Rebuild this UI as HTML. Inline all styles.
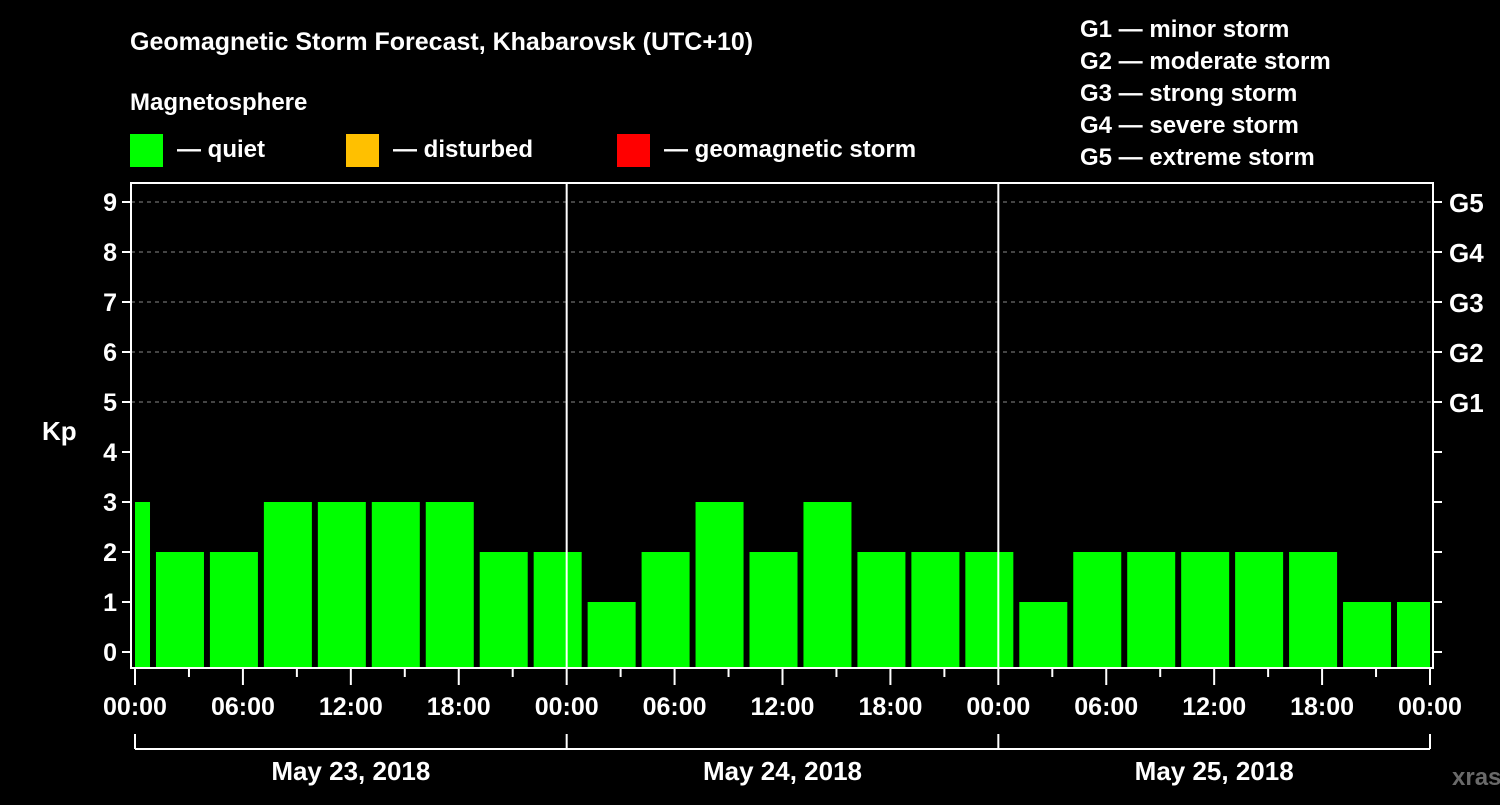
<!DOCTYPE html>
<html><head><meta charset="utf-8"><style>
html,body{margin:0;padding:0;background:#000;}
svg text{font-family:"Liberation Sans",Arial,sans-serif;font-weight:bold;fill:#fff;}
</style></head><body>
<svg width="1500" height="800" xmlns="http://www.w3.org/2000/svg">
<rect width="1500" height="800" fill="#000"/>
<text x="130" y="50" font-size="25">Geomagnetic Storm Forecast, Khabarovsk (UTC+10)</text>
<text x="130" y="110" font-size="24">Magnetosphere</text>
<rect x="130" y="134" width="33" height="33" fill="#00ff00"/>
<text x="177" y="157" font-size="24">— quiet</text>
<rect x="346" y="134" width="33" height="33" fill="#ffc000"/>
<text x="393" y="157" font-size="24">— disturbed</text>
<rect x="617" y="134" width="33" height="33" fill="#ff0000"/>
<text x="664" y="157" font-size="24">— geomagnetic storm</text>
<g font-size="24">
<text x="1080" y="37">G1 — minor storm</text>
<text x="1080" y="69">G2 — moderate storm</text>
<text x="1080" y="101">G3 — strong storm</text>
<text x="1080" y="133">G4 — severe storm</text>
<text x="1080" y="165">G5 — extreme storm</text>
</g>
<g id="plot"></g>
<text x="42" y="440" font-size="26">Kp</text>
<text x="1452" y="785" font-size="24" fill="#666" style="fill:#6a6a6a">xras.ru</text>
</svg>
<script>
const kpValues=[3,2,2,3,3,3,3,2,2,1,2,3,2,3,2,2,2,1,2,2,2,2,2,1,1];
const barHours=[-0.5,2.5,5.5,8.5,11.5,14.5,17.5,20.5,23.5,26.5,29.5,32.5,35.5,38.5,41.5,44.5,47.5,50.5,53.5,56.5,59.5,62.5,65.5,68.5,71.5];
const yTicks=[0,1,2,3,4,5,6,7,8,9];
const gLabels=["G1","G2","G3","G4","G5"];
const timeLabels=["00:00","06:00","12:00","18:00","00:00","06:00","12:00","18:00","00:00","06:00","12:00","18:00","00:00"];
const dayLabels=["May 23, 2018","May 24, 2018","May 25, 2018"];
const NS="http://www.w3.org/2000/svg";
const L=131,R=1433,T=183,B=668;
const x=h=>135+h*(1295/72);
const y=v=>652-v*50;
const g=document.getElementById('plot');
function mk(t,a,p){const e=document.createElementNS(NS,t);for(const k in a)e.setAttribute(k,a[k]);(p||g).appendChild(e);return e;}
const clip=mk('clipPath',{id:'pc'});mk('rect',{x:135,y:T,width:1430-135,height:B-T},clip);
yTicks.forEach(v=>{
 if(v>=5){const gl=mk('line',{x1:L,x2:R,y1:y(v),y2:y(v),stroke:'#888','stroke-dasharray':'4,4','stroke-width':1});
 
 }
 const t=mk('line',{x1:L-9,x2:L,y1:y(v),y2:y(v),stroke:'#fff','stroke-width':2});
 
 
 const t2=mk('line',{x1:R,x2:R+9,y1:y(v),y2:y(v),stroke:'#fff','stroke-width':2});
 
 
 const lb=mk('text',{x:L-14,y:y(v)+9,'font-size':25,'text-anchor':'end'});lb.textContent=v;
 
 
});
gLabels.forEach((s,i)=>{const lb=mk('text',{x:1449,y:y(5+i)+10,'font-size':26});lb.textContent=s;
 
 });
const bars=mk('g',{'clip-path':'url(#pc)'});
kpValues.forEach((v,i)=>{const cx=x(barHours[i]);
 const b=mk('rect',{x:cx-24,y:y(v),width:48,height:B-y(v),fill:'#00ff00'},bars);
 
 });
[24,48].forEach(h=>{const d=mk('line',{x1:x(h),x2:x(h),y1:T,y2:B,stroke:'#fff','stroke-width':2});
 
 });
const fr=mk('rect',{x:L,y:T,width:R-L,height:B-T,fill:'none',stroke:'#fff','stroke-width':2});


for(let h=0;h<=72;h+=3){const maj=h%6==0;
 const t=mk('line',{x1:x(h),x2:x(h),y1:B,y2:B+(maj?17:9),stroke:'#fff','stroke-width':2});
 
 }
timeLabels.forEach((s,i)=>{const lb=mk('text',{x:x(i*6),y:715,'font-size':25,'text-anchor':'middle'});lb.textContent=s;
 
 });
const br=mk('line',{x1:x(0),x2:x(72),y1:749,y2:749,stroke:'#fff','stroke-width':2});


[0,24,48,72].forEach(h=>{const t=mk('line',{x1:x(h),x2:x(h),y1:734,y2:749,stroke:'#fff','stroke-width':2});
 
 });
dayLabels.forEach((s,i)=>{const lb=mk('text',{x:x(i*24+12),y:780,'font-size':26,'text-anchor':'middle'});lb.textContent=s;
 
 });
</script>
</body></html>
